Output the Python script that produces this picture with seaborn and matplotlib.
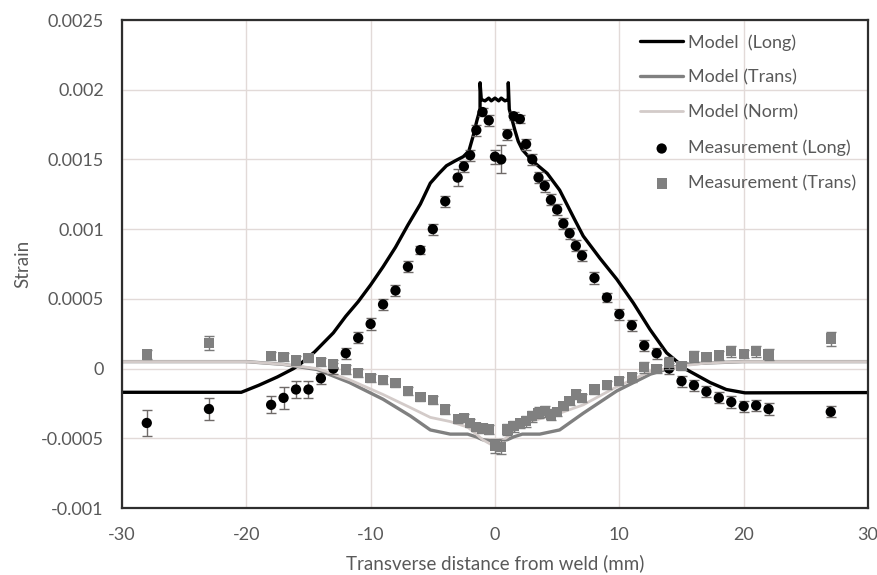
import numpy as np
import pandas as pd
import seaborn as sns
import matplotlib.pyplot as plt

# Dados (deformação vs distância transversal à solda)
x_meas = [-28, -23, -18, -17, -16, -15, -14, -13, -12, -11, -10, -9, -8, -7, -6, -5, -4, -3, -2.5, -2,
          -1.5, -1, -0.5, 0, 0.5, 1, 1.5, 2, 2.5, 3, 3.5, 4, 4.5, 5, 5.5, 6, 6.5, 7, 8, 9,
          10, 11, 12, 13, 14, 15, 16, 17, 18, 19, 20, 21, 22, 27]

meas_long = [-0.00039, -0.00029, -0.00026, -0.00021, -0.00015, -0.00015, -0.00007, 0.0, 0.00011, 0.00022,
             0.00032, 0.00046, 0.00056, 0.00073, 0.00085, 0.001, 0.0012, 0.00137, 0.00145, 0.00153,
             0.00171, 0.00184, 0.00178, 0.00152, 0.0015, 0.00168, 0.00181, 0.00179, 0.00161, 0.0015,
             0.00137, 0.00131, 0.00121, 0.00114, 0.00104, 0.00097, 0.00088, 0.00081, 0.00065, 0.00051,
             0.00039, 0.00031, 0.000165, 0.00011, 0.0, -0.00009, -0.00012, -0.000165, -0.00021, -0.00024,
             -0.00027, -0.000265, -0.00029, -0.00031]
err_long = [0.00009, 0.00008, 0.00006, 0.00008, 0.00006, 0.00006, 0.00004, 0.00004, 0.00004, 0.00004,
            0.00004, 0.00004, 0.00004, 0.00004, 0.00003, 0.00004, 0.00004, 0.00006, 0.00004, 0.00004,
            0.00004, 0.00003, 0.00004, 0.00005, 0.0001, 0.00004, 0.00003, 0.00003, 0.00004, 0.00004,
            0.00004, 0.00004, 0.00004, 0.00004, 0.00004, 0.00004, 0.00004, 0.00004, 0.00004, 0.00003,
            0.00004, 0.00004, 0.00004, 0.00004, 0.00004, 0.00004, 0.00004, 0.00004, 0.00004, 0.00004,
            0.00004, 0.00004, 0.00004, 0.00004]

meas_trans = [0.0001, 0.000184, 0.000088, 0.000082, 0.000057, 0.000077, 0.000048, 0.000034, -0.000007, -0.000031,
              -0.000067, -0.000084, -0.000103, -0.000163, -0.000206, -0.000224, -0.000294, -0.00036, -0.000354, -0.00039,
              -0.00042, -0.00043, -0.000437, -0.000552, -0.00056, -0.000437, -0.000413, -0.000394, -0.000378, -0.000342,
              -0.000318, -0.000306, -0.00033, -0.000313, -0.00027, -0.000234, -0.000186, -0.00021, -0.00015, -0.00012,
              -0.000088, -0.000065, 0.00001, -0.000005, 0.00004, 0.000018, 0.000086, 0.000084, 0.000093, 0.000124,
              0.000105, 0.000124, 0.0001, 0.000215]
err_trans = [0.00003, 0.00005, 0.00003, 0.00003, 0.00003, 0.00003, 0.00003, 0.00003, 0.00003, 0.00003,
             0.00003, 0.00003, 0.00003, 0.00003, 0.00003, 0.00003, 0.00003, 0.00003, 0.00003, 0.00003,
             0.00003, 0.00003, 0.00003, 0.00005, 0.00005, 0.00004, 0.00004, 0.00003, 0.00004, 0.00004,
             0.00004, 0.00004, 0.00004, 0.00003, 0.00003, 0.00003, 0.00003, 0.00003, 0.00003, 0.00003,
             0.00003, 0.00003, 0.00004, 0.00003, 0.00004, 0.00003, 0.00004, 0.00003, 0.00003, 0.00004,
             0.00003, 0.00004, 0.00004, 0.00005]

x_model_long = [-30, -20.4, -19, -17.5, -16.2, -15.7, -14.5, -13.0, -12.0, -11.0, -10.0, -9.0, -8.0, -7.0, -6.0,
                -5.2, -4.5, -3.9, -3.2, -2.55, -2.1, -1.75, -1.45, -1.2, -1.2, -1.1, -0.8, -0.5, -0.3, 0,
                0.3, 0.5, 0.8, 1.07, 1.07, 1.15, 1.3, 1.6, 1.87, 2.2, 3.0, 4.2, 5.2, 6.4, 7.1,
                8.45, 9.8, 11.13, 12.47, 13.8, 15.4, 17.3, 18.6, 20.1, 30]
model_long = [-0.00017, -0.00017, -0.00012, -0.00006, 0.0, 0.00003, 0.00012, 0.000256, 0.000375, 0.00048,
              0.0006, 0.00073, 0.00087, 0.00103, 0.00118, 0.00133, 0.0014, 0.001455, 0.00149, 0.00152,
              0.00156, 0.00167, 0.00178, 0.00186, 0.00205, 0.00193, 0.00192, 0.00194, 0.00192, 0.00194,
              0.00192, 0.00194, 0.00192, 0.00193, 0.00205, 0.00186, 0.00181, 0.00171, 0.00163, 0.00157,
              0.00149, 0.0014, 0.00128, 0.00107, 0.00095, 0.00079, 0.00064, 0.00047, 0.00028, 0.000113,
              -0.000007, -0.0001, -0.00015, -0.000174, -0.000172]

x_model_tn = [-30, -20, -17, -14.3, -11.7, -9.0, -6.8, -5.2, -3.6, -2.2, -1.5, -1.0, 0, 1.0, 1.5,
              2.2, 3.6, 5.2, 7.1, 9.8, 12.5, 15.1, 17, 20, 30]
model_trans = [0.00005, 0.00005, 0.00003, -0.000007, -0.0001, -0.00022, -0.00034, -0.00044, -0.00047, -0.00047,
               -0.00049, -0.00051, -0.00052, -0.00051, -0.00049, -0.00047, -0.00047, -0.00044, -0.00032, -0.00016,
               -0.00004, 0.00003, 0.00004, 0.00005, 0.00005]
model_norm = [0.00005, 0.00005, 0.00003, 0.0, -0.00008, -0.000186, -0.00028, -0.00035, -0.00038, -0.00042,
              -0.00047, -0.00051, -0.00056, -0.00049, -0.00045, -0.0004, -0.00036, -0.00032, -0.00026, -0.00013,
              -0.00002, 0.00002, 0.00004, 0.00005, 0.00005]

y_ticks = [-0.001, -0.0005, 0, 0.0005, 0.001, 0.0015, 0.002, 0.0025]
y_tick_labels = ['-0.001', '-0.0005', '0', '0.0005', '0.001', '0.0015', '0.002', '0.0025']
x_ticks = [-30, -20, -10, 0, 10, 20, 30]

sns.set_style('white')
plt.rcParams['font.family'] = ['Lato', 'DejaVu Sans']
cor_texto = '#595959'

fig = plt.figure(figsize=(8.77, 5.75), dpi=100)
ax = fig.add_axes([0.139, 0.1165, 0.8508, 0.8487])

# Linhas do modelo
sns.lineplot(x=x_model_long, y=model_long, ax=ax, color='black', lw=2.4,
             sort=False, estimator=None, label='Model  (Long)', zorder=2)
sns.lineplot(x=x_model_tn, y=model_trans, ax=ax, color='#808080', lw=2.4,
             sort=False, estimator=None, label='Model (Trans)', zorder=2)
sns.lineplot(x=x_model_tn, y=model_norm, ax=ax, color='#d3cbc9', lw=2.0,
             sort=False, estimator=None, label='Model (Norm)', zorder=2)

# Medições com barras de erro
ax.errorbar(x_meas, meas_long, yerr=err_long, fmt='none', ecolor='#6f6a68',
            elinewidth=1, capsize=3.5, capthick=1, zorder=3)
sns.scatterplot(x=x_meas, y=meas_long, ax=ax, color='black', marker='o', s=55,
                edgecolor='none', label='Measurement (Long)', zorder=4)
ax.errorbar(x_meas, meas_trans, yerr=err_trans, fmt='none', ecolor='#7a7a7a',
            elinewidth=1, capsize=3.5, capthick=1, zorder=5)
sns.scatterplot(x=x_meas, y=meas_trans, ax=ax, color='#808080', marker='s', s=55,
                edgecolor='none', label='Measurement (Trans)', zorder=6)

ax.set_xlim(-30, 30)
ax.set_ylim(-0.001, 0.0025)
ax.set_xticks(x_ticks)
ax.set_xticklabels([str(t) for t in x_ticks])
ax.set_yticks(y_ticks)
ax.set_yticklabels(y_tick_labels)
ax.tick_params(length=0, labelsize=13, labelcolor=cor_texto)
ax.tick_params(axis='y', pad=13)
ax.tick_params(axis='x', pad=13.5)
ax.grid(True, color='#e2dad8', lw=1)
ax.set_axisbelow(True)
for s in ax.spines.values():
    s.set_color('#2e2e2e')
    s.set_linewidth(1.6)

ax.set_xlabel('Transverse distance from weld (mm)', fontsize=13.5, color=cor_texto, labelpad=8.5)
ax.set_ylabel('Strain', fontsize=13.5, color=cor_texto, labelpad=7)

handles, labels = ax.get_legend_handles_labels()
leg = ax.legend(handles, labels, loc='upper left', bbox_to_anchor=(640 / 877, 1 - 34 / 575),
                bbox_transform=fig.transFigure, frameon=False, fontsize=13,
                handlelength=2.4, handletextpad=0.25, labelspacing=1.05,
                borderpad=0, borderaxespad=0, markerscale=1)
for t in leg.get_texts():
    t.set_color(cor_texto)

fig.savefig('out.png', dpi=100)
